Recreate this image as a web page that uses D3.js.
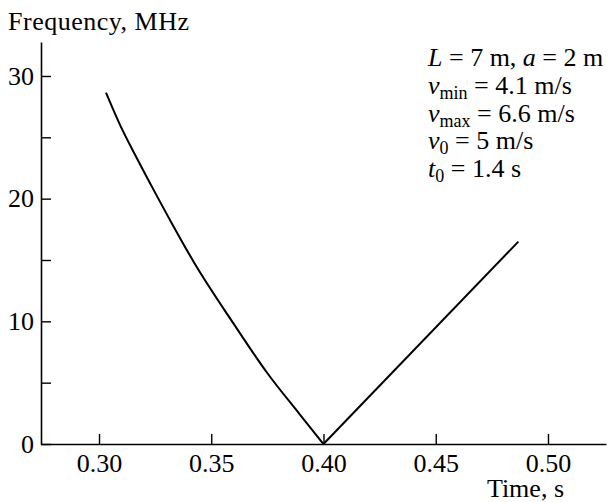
<!DOCTYPE html>
<html><head><meta charset="utf-8">
<script src="https://cdn.jsdelivr.net/npm/d3@7"></script>
<style>
html,body{margin:0;padding:0;background:#fff;}
text{font-family:"Liberation Serif","Times New Roman",serif;fill:#000;white-space:pre;}
</style></head>
<body>
<svg id="chart" width="609" height="502"></svg>
<script>
// Data
const time = [0.3031, 0.3094, 0.3160, 0.3235, 0.3324, 0.3420, 0.3598, 0.3747, 0.3895, 0.4000, 0.4868];
const freq = [28.64, 26.0, 23.6, 21.0, 18.0, 14.9, 9.85, 5.85, 2.4, 0.0, 16.5];
const xTicks = [0.30, 0.35, 0.40, 0.45, 0.50];
const yTicks = [0, 5, 10, 15, 20, 25, 30];
const yTickLabels = [0, 10, 20, 30];
const xLabel = "Time, s";
const yLabel = "Frequency, MHz";

const svg = d3.select("#chart");
const x = d3.scaleLinear().domain([0.27416, 0.52584]).range([41, 606]);
const y = d3.scaleLinear().domain([0, 32.77]).range([444, 42]);

const fs = 26;
// X axis
const xAxis = d3.axisBottom(x).tickValues(xTicks).tickSizeInner(-10).tickSizeOuter(0)
  .tickFormat(d3.format(".2f")).tickPadding(10);
const gx = svg.append("g").attr("transform", `translate(0,${y(0)})`).call(xAxis);
gx.select(".domain").attr("stroke", "#000").attr("stroke-width", 1.6);
gx.selectAll(".tick line").attr("stroke", "#000").attr("stroke-width", 1.4);
gx.selectAll(".tick text").attr("font-size", fs).attr("font-family", "Liberation Serif").attr("fill", "#000");

// Y axis
const yAxis = d3.axisLeft(y).tickValues(yTicks).tickSizeInner(-10).tickSizeOuter(0)
  .tickFormat(d => yTickLabels.includes(d) ? String(d) : "").tickPadding(7);
const gy = svg.append("g").attr("transform", `translate(${x.range()[0]},0)`).call(yAxis);
gy.select(".domain").attr("stroke", "#000").attr("stroke-width", 1.6);
gy.selectAll(".tick line").attr("stroke", "#000").attr("stroke-width", 1.4);
gy.selectAll(".tick text").attr("font-size", fs).attr("font-family", "Liberation Serif").attr("fill", "#000");

// Axis titles
svg.append("text").attr("x", 8).attr("y", 30).attr("font-size", fs).attr("textLength", 181).text(yLabel);
svg.append("text").attr("x", 564).attr("y", 497).attr("text-anchor", "end").attr("font-size", fs).text(xLabel);

// Curve: left branch smooth, right branch straight
const pts = time.map((t, i) => [t, freq[i]]);
const iMin = freq.indexOf(d3.min(freq));
const left = pts.slice(0, iMin + 1), right = pts.slice(iMin);
const lineL = d3.line().x(d => x(d[0])).y(d => y(d[1])).curve(d3.curveMonotoneX);
const lineR = d3.line().x(d => x(d[0])).y(d => y(d[1]));
svg.append("path").datum(left).attr("fill", "none").attr("stroke", "#000").attr("stroke-width", 2).attr("d", lineL);
svg.append("path").datum(right).attr("fill", "none").attr("stroke", "#000").attr("stroke-width", 2).attr("d", lineR);

// Parameter block
const lines = [
  [["L", "i"], [" = 7 m, ", "n"], ["a", "i"], [" = 2 m", "n"]],
  [["v", "i"], ["min", "s"], [" = 4.1 m/s", "n"]],
  [["v", "i"], ["max", "s"], [" = 6.6 m/s", "n"]],
  [["v", "i"], ["0", "s"], [" = 5 m/s", "n"]],
  [["t", "i"], ["0", "s"], [" = 1.4 s", "n"]]
];
const baselines = [66, 94, 121.5, 149, 176.5];
lines.forEach((ln, i) => {
  const t = svg.append("text").attr("x", 428).attr("y", baselines[i]).attr("font-size", fs);
  let sub = false;
  ln.forEach(([s, k]) => {
    const ts = t.append("tspan").text(s);
    if (k === "i") ts.attr("font-style", "italic");
    if (k === "s") { ts.attr("font-size", 18).attr("dy", 5); sub = true; }
    else if (sub) { ts.attr("dy", -5); sub = false; }
  });
});
</script>
</body></html>
